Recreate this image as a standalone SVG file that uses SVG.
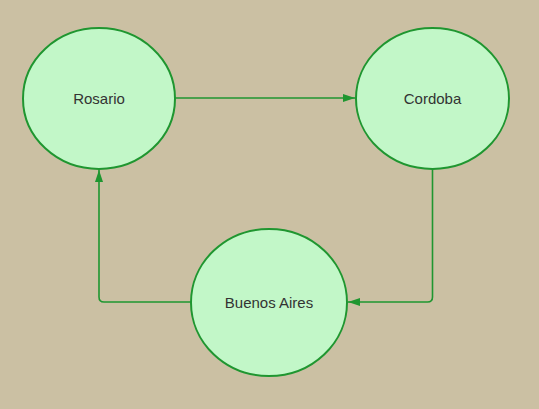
<svg xmlns="http://www.w3.org/2000/svg" width="539" height="409" viewBox="0 0 539 409">
<style>
.node ellipse{fill:#c2f7c8;stroke:#1f9630;stroke-width:2}
.node text{font-family:"Liberation Sans",Arial,sans-serif;font-size:15px;fill:#333;text-anchor:middle;dominant-baseline:central}
.edge{fill:none;stroke:#1f9630;stroke-width:1.6}
</style>
<defs>
<marker id="arr" viewBox="0 0 12 8" refX="12" refY="4" markerWidth="12" markerHeight="8" markerUnits="userSpaceOnUse" orient="auto">
<path d="M0,0 L12,4 L0,8 Z" fill="#1f9630"/>
</marker>
</defs>
<rect width="539" height="409" fill="#cbc0a3"/>
<g id="connectors">
<path class="edge" d="M175,98 L355,98" marker-end="url(#arr)"/>
<path class="edge" d="M432.5,169 L432.5,297 Q432.5,302 427.5,302 L348,302" marker-end="url(#arr)"/>
<path class="edge" d="M191,302 L104,302 Q99,302 99,297 L99,170" marker-end="url(#arr)"/>
</g>
<g id="rosario" class="node"><ellipse cx="99" cy="98.5" rx="76" ry="70.5"/><text x="99" y="98.5">Rosario</text></g>
<g id="cordoba" class="node"><ellipse cx="432.5" cy="98.5" rx="76.5" ry="70.5"/><text x="432.5" y="98.5">Cordoba</text></g>
<g id="buenos-aires" class="node"><ellipse cx="269" cy="302.5" rx="78" ry="73.5"/><text x="269" y="302">Buenos Aires</text></g>
</svg>
